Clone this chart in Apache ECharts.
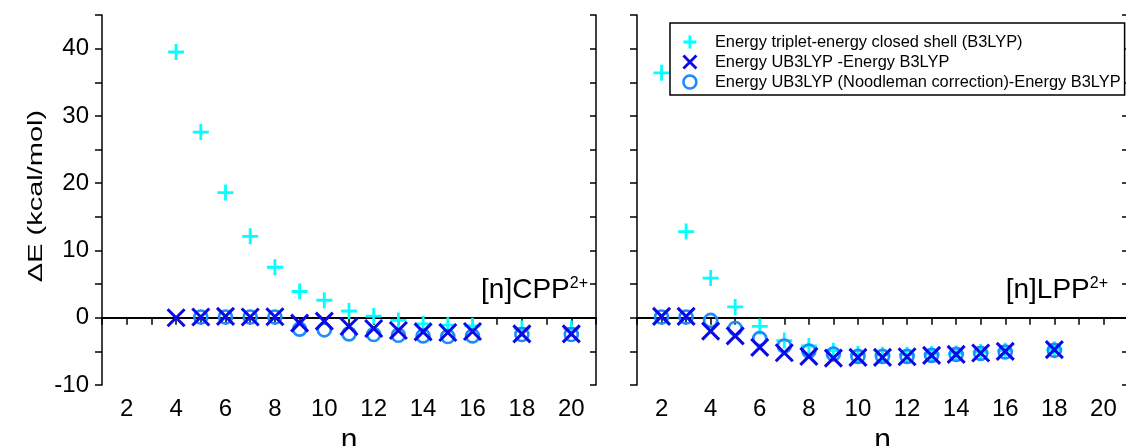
<!DOCTYPE html>
<html>
<head>
<meta charset="utf-8">
<script src="https://cdn.jsdelivr.net/npm/echarts@6/dist/echarts.min.js"></script>
<style>
  html, body { margin: 0; padding: 0; background: #fff; }
  #chart { width: 1126px; height: 446px; }
</style>
</head>
<body>
<div id="chart"></div>
<script>
// Ring size n and relative energies (kcal/mol) for the cyclic [n]CPP2+ panel
const nCPP = [4, 5, 6, 7, 8, 9, 10, 11, 12, 13, 14, 15, 16, 18, 20];
const cppTriplet = [39.5, 27.6, 18.6, 12.1, 7.5, 3.9, 2.6, 1.0, 0.25, -0.4, -0.9, -1.1, -1.2, -1.6, -1.6];
const cppUB3LYP = [0.0, 0.1, 0.2, 0.1, 0.15, -0.8, -0.5, -1.3, -1.6, -1.9, -2.1, -2.2, -2.05, -2.4, -2.4];
const nCPPNood = [5, 6, 7, 8, 9, 10, 11, 12, 13, 14, 15, 16, 18, 20];
const cppNoodleman = [0.1, 0.1, 0.1, 0.1, -1.7, -1.8, -2.4, -2.5, -2.6, -2.7, -2.8, -2.7, -2.5, -2.5];

// Chain length n and relative energies (kcal/mol) for the linear [n]LPP2+ panel
const nLPP = [2, 3, 4, 5, 6, 7, 8, 9, 10, 11, 12, 13, 14, 15, 16, 18];
const lppTriplet = [36.4, 12.8, 5.9, 1.6, -1.3, -3.4, -4.2, -4.9, -5.4, -5.5, -5.5, -5.4, -5.3, -5.1, -4.9, -4.7];
const lppUB3LYP = [0.2, 0.2, -2.0, -2.7, -4.4, -5.2, -5.75, -6.0, -5.9, -5.9, -5.8, -5.6, -5.45, -5.25, -5.0, -4.75];
const lppNoodleman = [0.1, 0.1, -0.4, -1.6, -3.1, -4.2, -4.95, -5.4, -5.75, -5.75, -5.75, -5.6, -5.45, -5.3, -5.1, -4.85];

const seriesNames = [
  'Energy triplet-energy closed shell (B3LYP)',
  'Energy UB3LYP -Energy B3LYP',
  'Energy UB3LYP (Noodleman correction)-Energy B3LYP'
];

const xMin = 1, xMax = 21;
const yMin = -10, yMax = 45;

const FONT = 'Liberation Sans, Arial, sans-serif';
const CYAN = '#00ffff';
const BLUE = '#0a0ae6';
const SKY = '#1a8cff';
const PLUS = 'path://M0,5L10,5M5,0L5,10';
const CROSS = 'path://M0,0L10,10M10,0L0,10';

const zip = (xs, ys) => xs.map((x, i) => [x, ys[i]]);

function bottomX(grid) {
  return {
    type: 'value', gridIndex: grid, position: 'bottom', min: xMin, max: xMax, interval: 1,
    axisLine: { lineStyle: { color: '#000', width: 1.5 } },
    axisTick: { inside: false, length: 6, lineStyle: { color: '#000', width: 1.5 } },
    axisLabel: {
      margin: 12, color: '#000', fontSize: 24, fontFamily: FONT,
      formatter: v => (v % 2 === 0 ? String(v) : '')
    },
    splitLine: { show: false },
    name: 'n', nameLocation: 'middle', nameGap: 32,
    nameTextStyle: { fontSize: 30, color: '#000', fontFamily: FONT }
  };
}
function topX(grid) {
  return {
    type: 'value', gridIndex: grid, position: 'top', min: xMin, max: xMax, interval: 1,
    axisLine: { lineStyle: { color: '#000', width: 1.5 } },
    axisTick: { inside: true, length: 7, lineStyle: { color: '#000', width: 1.5 } },
    axisLabel: { show: false }, splitLine: { show: false }
  };
}
function leftY(grid, labels) {
  return {
    type: 'value', gridIndex: grid, position: 'left', min: yMin, max: yMax, interval: 5,
    axisLine: { show: true, lineStyle: { color: '#000', width: 1.5 } },
    axisTick: { show: true, inside: false, length: 7, lineStyle: { color: '#000', width: 1.5 } },
    axisLabel: {
      show: labels, margin: 13, color: '#000', fontSize: 24, fontFamily: FONT,
      formatter: v => (v % 10 === 0 && v <= 40 ? String(v) : '')
    },
    splitLine: { show: false }
  };
}
function rightY(grid) {
  return {
    type: 'value', gridIndex: grid, position: 'right', min: yMin, max: yMax, interval: 5,
    axisLine: { show: true, lineStyle: { color: '#000', width: 1.5 } },
    axisTick: { show: true, inside: true, length: 6, lineStyle: { color: '#000', width: 1.5 } },
    axisLabel: { show: false }, splitLine: { show: false }
  };
}

function panelSeries(axisIdx, nTrip, trip, nUB, ub, nNood, nood) {
  return [
    {
      name: seriesNames[0], type: 'scatter', xAxisIndex: axisIdx, yAxisIndex: axisIdx,
      data: zip(nTrip, trip), symbol: PLUS, symbolSize: 16, z: 3,
      itemStyle: { color: 'transparent', borderColor: CYAN, borderWidth: 2.8, opacity: 1 },
      markLine: {
        silent: true, symbol: 'none', z: 1, label: { show: false },
        lineStyle: { color: '#000', width: 1.5, type: 'solid' },
        data: [{ yAxis: 0 }]
      }
    },
    {
      name: seriesNames[2], type: 'scatter', xAxisIndex: axisIdx, yAxisIndex: axisIdx,
      data: zip(nNood, nood), symbol: 'circle', symbolSize: 13, z: 4,
      itemStyle: { color: 'transparent', borderColor: SKY, borderWidth: 2.6, opacity: 1 }
    },
    {
      name: seriesNames[1], type: 'scatter', xAxisIndex: axisIdx, yAxisIndex: axisIdx,
      data: zip(nUB, ub), symbol: CROSS, symbolSize: 17, z: 5,
      itemStyle: { color: 'transparent', borderColor: BLUE, borderWidth: 3, opacity: 1 }
    }
  ];
}

const chart = echarts.init(document.getElementById('chart'), null, { renderer: 'canvas' });

chart.setOption({
  backgroundColor: '#fff',
  animation: false,
  textStyle: { fontFamily: FONT },
  grid: [
    { left: 102, top: 15, width: 494, height: 370, outerBoundsMode: 'none', containLabel: false },
    { left: 637, top: 15, width: 491, height: 370, outerBoundsMode: 'none', containLabel: false }
  ],
  xAxis: [bottomX(0), bottomX(1), topX(0), topX(1)],
  yAxis: [leftY(0, true), leftY(1, false), rightY(0), rightY(1)],
  legend: {
    orient: 'vertical', left: 670, top: 23,
    padding: [11, 4, 5, 12], itemGap: 4, itemWidth: 14, itemHeight: 13,
    borderColor: '#000', borderWidth: 1.5, backgroundColor: '#fff',
    selectedMode: false, z: 10,
    textStyle: { fontSize: 16.4, color: '#000', fontFamily: FONT, padding: [0, 0, 0, 13] },
    data: [
      { name: seriesNames[0], icon: PLUS,
        itemStyle: { color: 'transparent', borderColor: CYAN, borderWidth: 2.8 } },
      { name: seriesNames[1], icon: CROSS,
        itemStyle: { color: 'transparent', borderColor: BLUE, borderWidth: 2.8 } },
      { name: seriesNames[2], icon: 'circle',
        itemStyle: { color: 'transparent', borderColor: SKY, borderWidth: 2.6 } }
    ]
  },
  graphic: [
    {
      type: 'text', x: 36, y: 196, rotation: Math.PI / 2, scaleX: 1.38,
      style: { text: 'ΔE (kcal/mol)', font: '21px ' + FONT, fill: '#000', align: 'center', verticalAlign: 'middle' }
    },
    {
      type: 'text', x: 588, y: 290, z: 20,
      style: {
        text: '{a|[n]CPP}{s|2+}', align: 'right', verticalAlign: 'middle', fill: '#000',
        rich: {
          a: { fontSize: 28, fontFamily: FONT, fill: '#000' },
          s: { fontSize: 16, fontFamily: FONT, fill: '#000', verticalAlign: 'top' }
        }
      }
    },
    {
      type: 'text', x: 1108, y: 290, z: 20,
      style: {
        text: '{a|[n]LPP}{s|2+}', align: 'right', verticalAlign: 'middle', fill: '#000',
        rich: {
          a: { fontSize: 28, fontFamily: FONT, fill: '#000' },
          s: { fontSize: 16, fontFamily: FONT, fill: '#000', verticalAlign: 'top' }
        }
      }
    }
  ],
  series: [
    ...panelSeries(0, nCPP, cppTriplet, nCPP, cppUB3LYP, nCPPNood, cppNoodleman),
    ...panelSeries(1, nLPP, lppTriplet, nLPP, lppUB3LYP, nLPP, lppNoodleman)
  ]
});
</script>
</body>
</html>
